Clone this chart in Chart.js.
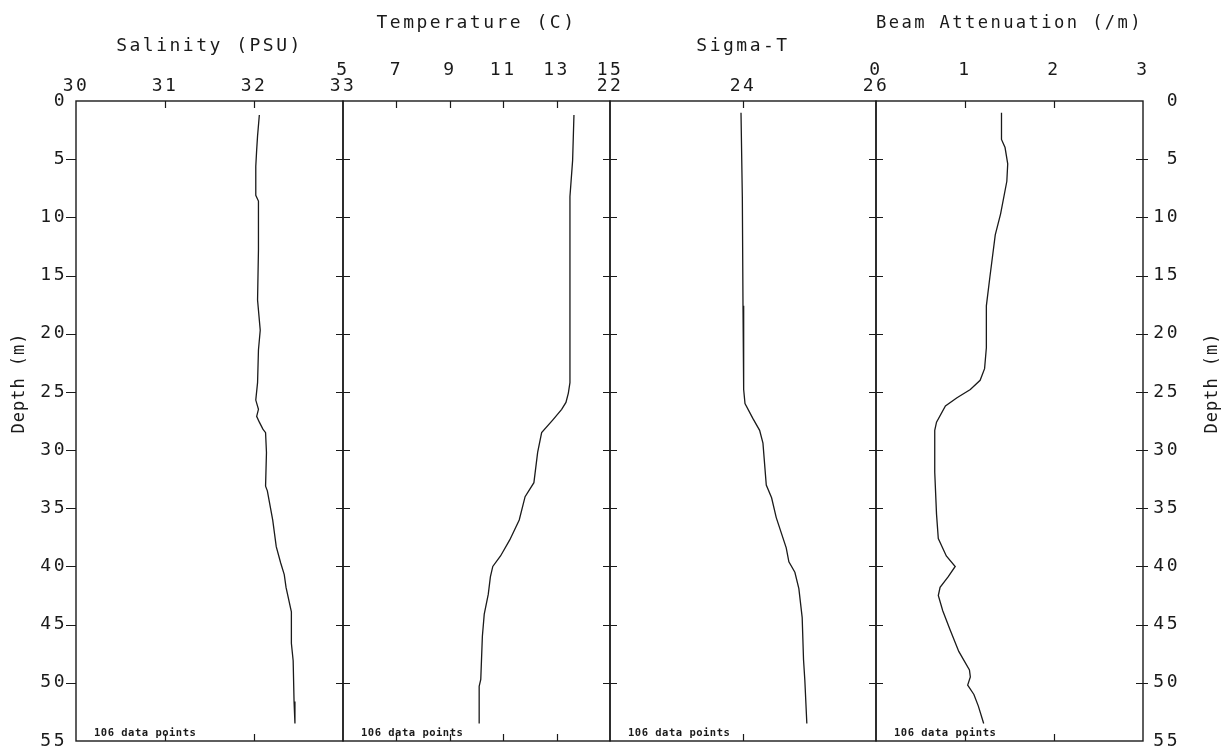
<!DOCTYPE html>
<html>
<head>
<meta charset="utf-8">
<title>CTD profile</title>
<script src="https://cdn.jsdelivr.net/npm/chart.js@4.4.1/dist/chart.umd.min.js"></script>
<style>
  html, body { margin: 0; padding: 0; background: #fff; }
  #wrap { position: relative; width: 1229px; height: 751px; overflow: hidden; background: #fff; }
  #wrap canvas { position: absolute; top: 0; }
</style>
</head>
<body>
<div id="wrap">
  <canvas id="panel-sal"></canvas>
  <canvas id="panel-temp"></canvas>
  <canvas id="panel-sigma"></canvas>
  <canvas id="panel-beam"></canvas>
</div>
<script>
// values (depth in m)
const depthTicks = [0, 5, 10, 15, 20, 25, 30, 35, 40, 45, 50, 55];

const salinityTicks = [30, 31, 32, 33];
const salinityDepth = [1.2, 3.0, 4.2, 5.6, 8.1, 8.6, 12.8, 17.1, 19.7, 21.4, 24.2, 25.7, 26.5, 27.1, 27.6, 28.2, 28.5, 30.2, 33.1, 33.5, 36.0, 38.3, 39.7, 40.7, 41.8, 43.9, 46.6, 48.1, 51.6, 53.5];
const salinityValues = [32.06, 32.04, 32.03, 32.02, 32.02, 32.05, 32.05, 32.04, 32.07, 32.05, 32.04, 32.02, 32.05, 32.03, 32.06, 32.10, 32.13, 32.14, 32.13, 32.15, 32.21, 32.25, 32.30, 32.34, 32.36, 32.42, 32.42, 32.44, 32.45, 32.46];

const temperatureTicks = [5, 7, 9, 11, 13, 15];
const temperatureDepth = [1.2, 5.1, 8.2, 14.2, 24.2, 25.1, 25.9, 26.5, 27.4, 28.5, 30.2, 32.8, 34.0, 36.0, 37.7, 39.1, 40.0, 40.9, 42.4, 44.1, 46.0, 49.7, 50.3, 53.5];
const temperatureValues = [13.65, 13.60, 13.50, 13.50, 13.50, 13.44, 13.35, 13.19, 12.86, 12.44, 12.29, 12.15, 11.82, 11.60, 11.25, 10.90, 10.61, 10.52, 10.44, 10.29, 10.22, 10.16, 10.10, 10.10];

const sigmaTicks = [22, 24, 26];
const sigmaDepth = [1.0, 8.3, 17.6, 24.8, 26.0, 27.3, 28.3, 29.4, 33.0, 34.1, 35.8, 38.4, 39.6, 40.5, 41.9, 44.4, 48.0, 49.8, 53.5];
const sigmaValues = [23.97, 23.99, 24.00, 24.01, 24.03, 24.15, 24.25, 24.30, 24.35, 24.43, 24.50, 24.65, 24.69, 24.78, 24.84, 24.89, 24.91, 24.93, 24.96];

const beamTicks = [0, 1, 2, 3];
const beamDepth = [1.0, 3.3, 4.0, 5.4, 6.9, 9.7, 11.5, 15.1, 17.6, 21.2, 23.0, 24.0, 24.8, 25.5, 26.2, 27.6, 28.3, 31.9, 35.5, 37.6, 39.1, 40.0, 40.9, 41.8, 42.5, 43.8, 45.4, 47.3, 48.9, 49.5, 50.2, 51.0, 52.0, 53.5];
const beamValues = [1.41, 1.41, 1.45, 1.48, 1.47, 1.40, 1.34, 1.28, 1.24, 1.24, 1.22, 1.17, 1.06, 0.91, 0.78, 0.68, 0.66, 0.66, 0.68, 0.70, 0.79, 0.89, 0.81, 0.72, 0.70, 0.75, 0.83, 0.93, 1.05, 1.06, 1.03, 1.10, 1.15, 1.21];

const pointCountLabel = "106 data points";
const depthTitle = "Depth (m)";

const ink = "#1a1a1a";
const plotTop = 101;
const plotBottom = 741;
const pageWidth = 1229;
const pageHeight = 751;
const panelEdges = [76, 343, 610, 876, 1143];
const rightLabelEdge = 1180;
const sidePad = 60;
const monoFont = "'DejaVu Sans Mono', 'Liberation Mono', monospace";

const panels = [
  { id: "panel-sal", title: "Salinity (PSU)", ticks: salinityTicks, depth: salinityDepth, values: salinityValues, high: false },
  { id: "panel-temp", title: "Temperature (C)", ticks: temperatureTicks, depth: temperatureDepth, values: temperatureValues, high: true },
  { id: "panel-sigma", title: "Sigma-T", ticks: sigmaTicks, depth: sigmaDepth, values: sigmaValues, high: false },
  { id: "panel-beam", title: "Beam Attenuation (/m)", ticks: beamTicks, depth: beamDepth, values: beamValues, high: true }
];

const spacingPlugin = {
  id: "spacing",
  beforeLayout(chart) { chart.ctx.letterSpacing = "2.5px"; },
  beforeDraw(chart) { chart.ctx.letterSpacing = "2.5px"; }
};

// box, inward tick marks, point count and depth titles
const framePlugin = {
  id: "frame",
  afterDatasetsDraw(chart, args, opts) {
    const { ctx, chartArea: a, scales } = chart;
    const x = scales.x;
    const y = scales.y;

    ctx.save();
    ctx.letterSpacing = "0px";
    ctx.strokeStyle = ink;
    ctx.lineWidth = 1.4;
    ctx.strokeRect(a.left, a.top, a.right - a.left, a.bottom - a.top);

    ctx.lineWidth = 1.2;
    ctx.beginPath();
    opts.ticks.forEach(value => {
      if (value === x.min || value === x.max) return;
      const px = Math.round(x.getPixelForValue(value)) + 0.5;
      ctx.moveTo(px, a.top);
      ctx.lineTo(px, a.top + 7);
      ctx.moveTo(px, a.bottom);
      ctx.lineTo(px, a.bottom - 7);
    });
    depthTicks.forEach(depth => {
      if (depth === 0 || depth === 55) return;
      const py = Math.round(y.getPixelForValue(depth)) + 0.5;
      if (opts.first) {
        ctx.moveTo(a.left - 10, py);
        ctx.lineTo(a.left, py);
      } else {
        ctx.moveTo(a.left - 7, py);
        ctx.lineTo(a.left + 7, py);
      }
      if (opts.last) {
        ctx.moveTo(a.right - 7, py);
        ctx.lineTo(a.right + 5, py);
      }
    });
    ctx.stroke();

    ctx.fillStyle = ink;
    ctx.font = "bold 10.5px " + monoFont;
    ctx.letterSpacing = "0.5px";
    ctx.textAlign = "left";
    ctx.textBaseline = "middle";
    ctx.fillText(pointCountLabel, a.left + 18, a.bottom - 8);

    if (opts.depthX !== null) {
      ctx.font = "17px " + monoFont;
      ctx.letterSpacing = "1px";
      ctx.textAlign = "center";
      ctx.translate(opts.depthX, 383);
      ctx.rotate(-Math.PI / 2);
      ctx.fillText(depthTitle, 0, 0);
    }
    ctx.restore();
  }
};

panels.forEach((panel, i) => {
  const first = i === 0;
  const last = i === panels.length - 1;
  const left = panelEdges[i];
  const right = panelEdges[i + 1];
  const canvasLeft = first ? 0 : left - sidePad;
  const canvasRight = last ? pageWidth : right + sidePad;

  const canvas = document.getElementById(panel.id);
  canvas.width = canvasRight - canvasLeft;
  canvas.height = pageHeight;
  canvas.style.left = canvasLeft + "px";

  let depthX = null;
  if (first) depthX = 20;
  if (last) depthX = 1213 - canvasLeft;

  new Chart(canvas, {
    type: "scatter",
    data: {
      datasets: [{
        data: panel.depth.map((d, k) => ({ x: panel.values[k], y: d })),
        showLine: true,
        borderColor: ink,
        borderWidth: 1.3,
        pointRadius: 0,
        pointHoverRadius: 0,
        tension: 0,
        fill: false
      }]
    },
    options: {
      responsive: false,
      animation: false,
      events: [],
      layout: {
        padding: {
          left: first ? 0 : sidePad,
          right: last ? pageWidth - rightLabelEdge : sidePad,
          top: 0,
          bottom: pageHeight - plotBottom
        }
      },
      scales: {
        x: {
          type: "linear",
          position: "top",
          min: panel.ticks[0],
          max: panel.ticks[panel.ticks.length - 1],
          afterBuildTicks: scale => { scale.ticks = panel.ticks.map(v => ({ value: v })); },
          afterFit: scale => { scale.height = plotTop; },
          ticks: {
            autoSkip: false,
            maxRotation: 0,
            padding: panel.high ? 20 : 4,
            color: ink,
            font: { family: monoFont, size: 18 }
          },
          grid: { display: false, drawTicks: false },
          border: { display: false },
          title: {
            display: true,
            text: panel.title,
            color: ink,
            font: { family: monoFont, size: 18 },
            padding: { top: panel.high ? 13 : 36, bottom: 0 }
          }
        },
        y: {
          type: "linear",
          position: last ? "right" : "left",
          display: first || last,
          reverse: true,
          min: 0,
          max: 55,
          afterBuildTicks: scale => { scale.ticks = depthTicks.map(v => ({ value: v })); },
          afterFit: scale => {
            if (first) scale.width = left;
            else if (last) scale.width = rightLabelEdge - right;
            else scale.width = 0;
            scale.paddingTop = 0;
            scale.paddingBottom = 0;
          },
          ticks: {
            autoSkip: false,
            crossAlign: last ? "far" : "near",
            padding: 9,
            color: ink,
            font: { family: monoFont, size: 18 }
          },
          grid: { display: false, drawTicks: false },
          border: { display: false }
        }
      },
      plugins: {
        legend: { display: false },
        tooltip: { enabled: false },
        frame: { ticks: panel.ticks, first: first, last: last, depthX: depthX }
      }
    },
    plugins: [spacingPlugin, framePlugin]
  });
});
</script>
</body>
</html>
